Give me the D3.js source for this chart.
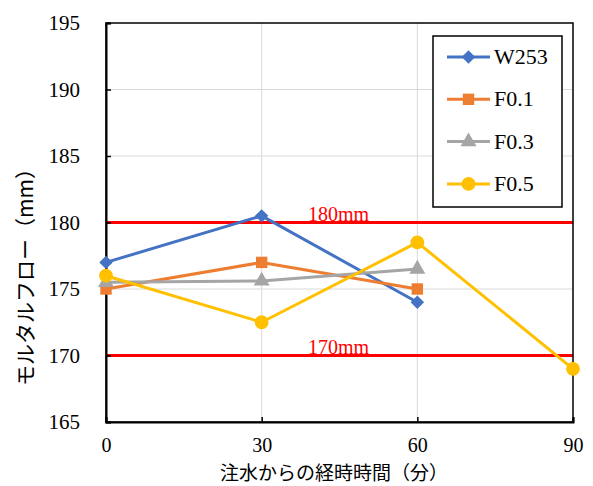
<!DOCTYPE html>
<html>
<head>
<meta charset="utf-8">
<script src="https://cdn.jsdelivr.net/npm/d3@7"></script>
<style>
  body { margin: 0; background: #fff; }
</style>
</head>
<body>
<svg></svg>
<script>
const times = [0, 30, 60, 90];
const xTicks = [0, 30, 60, 90];
const yTicks = [165, 170, 175, 180, 185, 190, 195];
const seriesNames = ["W253", "F0.1", "F0.3", "F0.5"];
const seriesColors = ["#4472C4", "#ED7D31", "#A5A5A5", "#FFC000"];
const seriesShapes = ["diamond", "square", "triangle", "circle"];
const w253 = [177.0, 180.5, 174.0];
const f01 = [175.0, 177.0, 175.0];
const f03 = [175.5, 175.6, 176.5];
const f05 = [176.0, 172.5, 178.5, 169.0];
const limits = [180, 170];
const limitLabels = ["180mm", "170mm"];

const SERIF = "Liberation Serif";
const JP = "Noto Sans CJK JP";
const W = 593, H = 486;
const margin = { top: 23, right: 20, bottom: 64, left: 106 };
const svg = d3.select("svg").attr("width", W).attr("height", H);

const x = d3.scaleLinear().domain([0, 90]).range([margin.left, W - margin.right]);
const y = d3.scaleLinear().domain([165, 195]).range([H - margin.bottom, margin.top]);

// grid
svg.append("g")
  .selectAll("line")
  .data(yTicks.slice(1, -1))
  .join("line")
  .attr("x1", x(0)).attr("x2", x(90))
  .attr("y1", d => y(d)).attr("y2", d => y(d))
  .attr("stroke", "#d9d9d9").attr("stroke-width", 1);
svg.append("g")
  .selectAll("line")
  .data(xTicks.slice(1, -1))
  .join("line")
  .attr("y1", y(165)).attr("y2", y(195))
  .attr("x1", d => x(d)).attr("x2", d => x(d))
  .attr("stroke", "#d9d9d9").attr("stroke-width", 1);

// limit lines
limits.forEach((v, i) => {
  svg.append("line")
    .attr("x1", x(0)).attr("x2", x(90))
    .attr("y1", y(v)).attr("y2", y(v))
    .attr("stroke", "#ff0000").attr("stroke-width", 3);
  svg.append("text")
    .attr("x", x(44.8)).attr("y", y(v) - 2)
    .attr("text-anchor", "middle")
    .attr("fill", "#ff0000")
    .attr("font-family", SERIF)
    .attr("font-size", 20)
    .text(limitLabels[i]);
});

// frame and axes
svg.append("rect")
  .attr("x", x(0)).attr("y", y(195))
  .attr("width", x(90) - x(0)).attr("height", y(165) - y(195))
  .attr("fill", "none").attr("stroke", "#000").attr("stroke-width", 1.5);

const yAxis = svg.append("g")
  .attr("transform", `translate(${x(0)},0)`)
  .call(d3.axisLeft(y).tickValues(yTicks).tickSize(-5).tickPadding(26));
const xAxis = svg.append("g")
  .attr("transform", `translate(0,${y(165)})`)
  .call(d3.axisBottom(x).tickValues(xTicks).tickSize(-5).tickPadding(16));
[yAxis, xAxis].forEach(a => {
  a.attr("font-family", SERIF).attr("font-size", 21);
  a.select(".domain").attr("stroke", "#000").attr("stroke-width", 2);
  a.selectAll(".tick line").attr("stroke", "#000").attr("stroke-width", 1.5);
  a.selectAll(".tick text").attr("fill", "#000");
});
xAxis.attr("font-size", 20);

// titles
svg.append("text")
  .attr("x", 334).attr("y", 480)
  .attr("text-anchor", "middle")
  .attr("font-family", JP)
  .attr("font-size", 19)
  .text("注水からの経時時間（分）");
svg.append("text")
  .attr("transform", "translate(33,272) rotate(-90)")
  .attr("text-anchor", "middle")
  .attr("font-family", JP)
  .attr("font-size", 21)
  .text("モルタルフロー（mm）");

// series
const symbolType = {
  diamond: d3.symbolSquare,
  square: d3.symbolSquare,
  triangle: d3.symbolTriangle,
  circle: d3.symbolCircle
};
const symbolSize = { diamond: 90, square: 130, triangle: 110, circle: 150 };
const symbolRot = { diamond: 45, square: 0, triangle: 0, circle: 0 };
const allSeries = [w253, f01, f03, f05];
const line = d3.line().x((d, i) => x(times[i])).y(d => y(d));
const marker = s => d3.symbol().type(symbolType[s]).size(symbolSize[s]);

allSeries.forEach((vals, si) => {
  const shape = seriesShapes[si];
  const g = svg.append("g");
  g.append("path")
    .attr("d", line(vals))
    .attr("fill", "none")
    .attr("stroke", seriesColors[si])
    .attr("stroke-width", 3)
    .attr("stroke-linejoin", "round");
  g.selectAll("path.pt")
    .data(vals)
    .join("path")
    .attr("class", "pt")
    .attr("transform", (d, i) => `translate(${x(times[i])},${y(d)}) rotate(${symbolRot[shape]})`)
    .attr("d", marker(shape))
    .attr("fill", seriesColors[si]);
});

// legend
const lg = svg.append("g").attr("transform", "translate(433,36)");
lg.append("rect")
  .attr("width", 129).attr("height", 171)
  .attr("fill", "#fff").attr("stroke", "#000").attr("stroke-width", 1.5);
seriesNames.forEach((name, i) => {
  const yy = 21 + i * 42.3;
  const shape = seriesShapes[i];
  lg.append("line")
    .attr("x1", 14).attr("x2", 57)
    .attr("y1", yy).attr("y2", yy)
    .attr("stroke", seriesColors[i]).attr("stroke-width", 3);
  lg.append("path")
    .attr("transform", `translate(35.5,${yy}) rotate(${symbolRot[shape]})`)
    .attr("d", marker(shape))
    .attr("fill", seriesColors[i]);
  lg.append("text")
    .attr("x", 61).attr("y", yy + 7)
    .attr("font-family", SERIF)
    .attr("font-size", 22)
    .text(name);
});
</script>
</body>
</html>
